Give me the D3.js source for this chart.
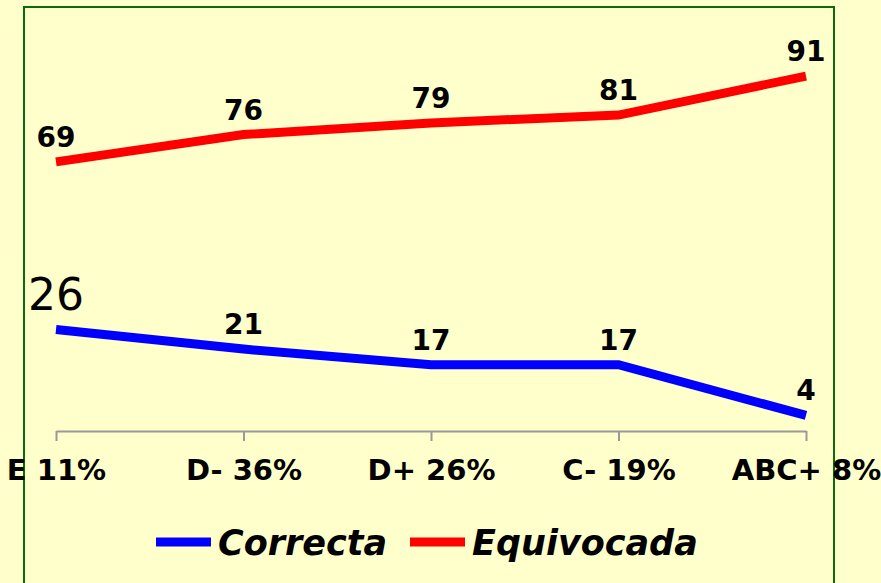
<!doctype html>
<meta charset="utf-8">
<style>
body { margin: 0; background: #ffffcc; }
text { font-family: "DejaVu Sans", sans-serif; }
</style>
<body>
<div id="viz"></div>
<script src="https://cdnjs.cloudflare.com/ajax/libs/d3/7.8.5/d3.min.js"></script>
<script>
// data
var categories = ["E 11%", "D- 36%", "D+ 26%", "C- 19%", "ABC+ 8%"];
var correcta = [26, 21, 17, 17, 4];
var equivocada = [69, 76, 79, 81, 91];
var seriesNames = ["Correcta", "Equivocada"];
var seriesColors = ["#0000ff", "#ff0000"];

var W = 881, H = 583;
var svg = d3.select("#viz").append("svg").attr("width", W).attr("height", H);

svg.append("rect").attr("width", W).attr("height", H).attr("fill", "#ffffcc");
// green frame
svg.append("rect").attr("x", 24).attr("y", 7).attr("width", 810).attr("height", 600)
    .attr("fill", "none").attr("stroke", "#0b6b0b").attr("stroke-width", 2);

var x = d3.scalePoint().domain(categories).range([56, 806]);
var y = d3.scaleLinear().domain([0, 100]).range([431, 41]);

// x axis
var ax = svg.append("g").attr("transform", "translate(0,431)")
    .call(d3.axisBottom(x).tickSize(10).tickSizeOuter(0));
ax.select(".domain").attr("stroke", "#999").attr("stroke-width", 2);
ax.selectAll(".tick line").attr("stroke", "#999").attr("stroke-width", 2);
ax.selectAll(".tick text").attr("fill", "#000").attr("font-size", 29).attr("font-weight", "bold")
    .attr("font-family", "DejaVu Sans").attr("dy", 0).attr("y", 49);

var series = [correcta, equivocada];
var line = d3.line().x(function(d, i) { return x(categories[i]); }).y(function(d) { return y(d); });

series.forEach(function(vals, s) {
    svg.append("path").datum(vals).attr("d", line)
        .attr("fill", "none").attr("stroke", seriesColors[s]).attr("stroke-width", 9);
    svg.selectAll(null).data(vals).enter().append("text")
        .attr("x", function(d, i) { return x(categories[i]); })
        .attr("y", function(d, i) { return y(d) - (s == 0 && i == 0 ? 20 : 15); })
        .attr("text-anchor", "middle")
        .attr("font-size", function(d, i) { return s == 0 && i == 0 ? 44 : 28; })
        .attr("font-weight", function(d, i) { return s == 0 && i == 0 ? "normal" : "bold"; })
        .text(function(d) { return d; });
});

// legend
var legX = [156, 410];
seriesNames.forEach(function(n, s) {
    svg.append("line").attr("x1", legX[s]).attr("x2", legX[s] + 55).attr("y1", 542).attr("y2", 542)
        .attr("stroke", seriesColors[s]).attr("stroke-width", 9);
    svg.append("text").attr("x", legX[s] + 62).attr("y", 555)
        .attr("font-size", 35).attr("font-weight", "bold").attr("font-style", "italic")
        .text(n);
});
</script>
</body>
